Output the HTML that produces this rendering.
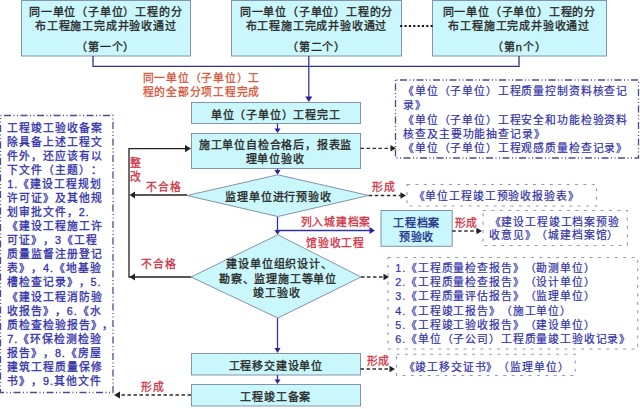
<!DOCTYPE html>
<html lang="zh-CN"><head><meta charset="utf-8">
<style>
html,body{margin:0;padding:0;background:#fff;width:640px;height:409px;overflow:hidden}
svg{display:block;font-family:"Liberation Sans",sans-serif;text-spacing-trim:space-all}
.bx{fill:#C9F7FB;stroke:#8494AC;stroke-width:1}
.tk{fill:#2A2A2A;font-size:11px;letter-spacing:0.8px;stroke:#2A2A2A;stroke-width:0.35}
.tr{fill:#D03444;font-size:10.8px;letter-spacing:0.75px;stroke:#D03444;stroke-width:0.3}
.tb{fill:#3232A8;letter-spacing:0.85px;stroke:#3232A8;stroke-width:0.22}
.bl{stroke:#3434A4;stroke-width:1.3;fill:none}
.bk{stroke:#222;stroke-width:1.3;fill:none}
.dsh{stroke:#2C2C2C;stroke-width:1.3;fill:none;stroke-dasharray:3.5 2.5}
.db{fill:none;stroke:#9898B8;stroke-width:1.1;stroke-dasharray:3 5.4}
.dd{fill:none;stroke:#4C4C8C;stroke-width:1.3;stroke-dasharray:7 2.5 1 2.5 1 2.5}
</style></head><body>
<svg width="640" height="409" viewBox="0 0 640 409">
<!-- top boxes -->
<rect class="bx" x="21.5" y="0.5" width="169" height="55.5"/>
<rect class="bx" x="231.5" y="0.5" width="170" height="55.5"/>
<rect class="bx" x="432.5" y="0.5" width="174" height="55.5"/>
<g class="tk" text-anchor="middle">
<text x="105.75" y="15.5">同一单位（子单位）工程的分</text>
<text x="105.75" y="30">布工程施工完成并验收通过</text>
<text x="105.75" y="50.7">（第一个）</text>
<text x="316.5" y="15.5">同一单位（子单位）工程的分</text>
<text x="316.5" y="30">布工程施工完成并验收通过</text>
<text x="316.5" y="50.7">（第二个）</text>
<text x="519.25" y="15.5">同一单位（子单位）工程的分</text>
<text x="519.25" y="30">布工程施工完成并验收通过</text>
<text x="519.25" y="50.7">（第n个）</text>
</g>
<line x1="400.2" y1="26" x2="433" y2="26" stroke="#0C1020" stroke-width="2.1" stroke-dasharray="2.1 2.24"/>
<!-- connectors -->
<path class="bl" d="M93 56V66.3H519V56" style="stroke:#303090"/>
<path class="bl" d="M308.8 56V97"/>
<path d="M305.3 96.5L308.8 102L312.3 96.5Z" fill="#2C22A0"/>
<g class="tr" style="fill:#D5573C;stroke:#D5573C"><text x="142.5" y="82.3">同一单位（子单位）工</text><text x="142.5" y="95.6">程的全部分项工程完成</text></g>
<!-- main flow -->
<rect class="bx" x="191.5" y="102.5" width="169" height="21"/>
<text class="tk" x="275.75" y="118.8" text-anchor="middle">单位（子单位）工程完工</text>
<path class="bl" d="M277.5 123.5V129"/><path d="M274.5 128.5L277.5 133L280.5 128.5Z" fill="#2C22A0"/>
<rect class="bx" x="191.5" y="133.5" width="169" height="35"/>
<g class="tk" text-anchor="middle"><text x="275.5" y="149.2">施工单位自检合格后，报表监</text><text x="275.2" y="163.2">理单位验收</text></g>
<path class="bl" d="M277.5 168.5V170"/><path d="M274.5 170L277.5 174.8L280.5 170Z" fill="#2C22A0"/>
<polygon class="bx" points="187,195.5 277.8,174.8 368.75,195.5 277.8,216.5"/>
<text class="tk" x="278.6" y="201" text-anchor="middle">监理单位进行预验收</text>
<path class="bl" d="M277.5 217V230"/><path d="M274.5 230L277.5 234.8L280.5 230Z" fill="#2C22A0"/>
<path class="bl" d="M277.5 230.5H370"/><path d="M369.5 227L375 230.5L369.5 234Z" fill="#2C22A0"/>
<g class="tr"><text x="300.5" y="226.3">列入城建档案</text><text x="306" y="246.7">馆验收工程</text></g>
<polygon class="bx" points="191,277 277.8,234.8 361,277 277.8,318"/>
<g class="tk" text-anchor="middle"><text x="279.5" y="267.9">建设单位组织设计、</text><text x="278" y="283.2">勘察、监理施工等单位</text><text x="277" y="297.2">竣工验收</text></g>
<path class="bl" d="M277.5 318V348"/><path d="M274.5 348L277.5 353L280.5 348Z" fill="#2C22A0"/>
<rect class="bx" x="191.5" y="353.5" width="169" height="21.5"/>
<text class="tk" x="275.75" y="370.2" text-anchor="middle">工程移交建设单位</text>
<path class="bl" d="M277.5 375V380"/><path d="M274.5 379.5L277.5 384L280.5 379.5Z" fill="#2C22A0"/>
<rect class="bx" x="191.5" y="384.5" width="169" height="21.5"/>
<text class="tk" x="275.75" y="401" text-anchor="middle">工程竣工备案</text>
<!-- feedback loop -->
<path class="bk" d="M186 148.6H129V277H191"/>
<path d="M185 145L191 148.6L185 152.2Z" fill="#222"/>
<path class="bk" d="M187 195H135"/>
<path d="M135 191.5L129.5 195L135 198.5Z" fill="#222"/>
<path d="M135 273.5L129.5 277L135 280.5Z" fill="#222"/>
<g class="tr"><text x="130.4" y="166.7">整</text><text x="130.4" y="181">改</text><text x="146.2" y="191.4">不合格</text><text x="141" y="267.9">不合格</text></g>
<!-- left info box -->
<rect class="dd" x="0.5" y="115.5" width="112.5" height="277" style="stroke-dashoffset:13"/>
<g class="tb" style="font-size:10.8px;letter-spacing:0.9px;stroke-width:0.3">
<text x="7.3" y="131.5">工程竣工验收备案</text>
<text x="7.3" y="145.6">除具备上述工程文</text>
<text x="7.3" y="159.7">件外，还应该有以</text>
<text x="7.3" y="173.7">下文件（主题）：</text>
<text x="7.3" y="187.8">1.《建设工程规划</text>
<text x="7.3" y="201.9">许可证》及其他规</text>
<text x="7.3" y="216">划审批文件，2.</text>
<text x="7.3" y="230.1">《建设工程施工许</text>
<text x="7.3" y="244.1">可证》，3《工程</text>
<text x="7.3" y="258.2">质量监督注册登记</text>
<text x="7.3" y="272.3">表》，4.《地基验</text>
<text x="7.3" y="286.4">槽检查记录》，5.</text>
<text x="7.3" y="300.5">《建设工程消防验</text>
<text x="7.3" y="314.5">收报告》，6.《水</text>
<text x="7.3" y="328.6">质检查检验报告》，</text>
<text x="7.3" y="342.7">7.《环保检测检验</text>
<text x="7.3" y="356.8">报告》，8.《房屋</text>
<text x="7.3" y="370.9">建筑工程质量保修</text>
<text x="7.3" y="384.9">书》，9.其他文件</text>
</g>
<path class="dsh" d="M191 395H120"/><path d="M120 391.5L114 395L120 398.5Z" fill="#222"/>
<text class="tr" x="141" y="391">形成</text>
<!-- right boxes -->
<rect class="dd" x="395.5" y="80" width="243" height="78" style="stroke-dashoffset:12"/>
<g class="tb" style="font-size:10.8px">
<text x="403" y="95.3">《单位（子单位）工程质量控制资料核查记</text>
<text x="403.3" y="109.2">录》</text>
<text x="403" y="124.3">《单位（子单位）工程安全和功能检验资料</text>
<text x="403.3" y="138.3">核查及主要功能抽查记录》</text>
<text x="403" y="152.3">《单位（子单位）工程观感质量检查记录》</text>
</g>
<path class="dsh" d="M360.5 148.3H391"/><path d="M390.5 145L396 148.3L390.5 151.6Z" fill="#222"/>
<text class="tr" x="371.75" y="191">形成</text>
<path class="dsh" d="M368.75 195.5H401"/><path d="M400.5 192.2L406 195.5L400.5 198.8Z" fill="#222"/>
<rect class="db" x="407" y="184.5" width="189.5" height="21.5"/>
<text class="tb" style="font-size:10.8px" x="413.6" y="200.3">《单位工程竣工预验收报验表》</text>
<rect class="bx" x="381" y="210.5" width="71.2" height="35.8"/>
<g class="tk" text-anchor="middle" style="fill:#24358A;stroke:#24358A"><text x="416.6" y="227.4">工程档案</text><text x="416.6" y="240.6">预验收</text></g>
<text class="tr" x="454.6" y="226.9">形成</text>
<path class="dsh" d="M452.2 231H477"/><path d="M476.5 227.7L482 231L476.5 234.3Z" fill="#222"/>
<rect class="db" x="483" y="210.5" width="144.3" height="35"/>
<g class="tb" style="font-size:10.8px"><text x="489.5" y="226">《建设工程竣工档案预验</text><text x="489" y="238.9">收意见》（城建档案馆）</text></g>
<path class="dsh" d="M361 277H384"/><path d="M383.5 273.7L389 277L383.5 280.3Z" fill="#222"/>
<rect class="db" x="388" y="257.5" width="249.7" height="91.5"/>
<g class="tb" style="font-size:10.8px">
<text x="395.3" y="271.8">1.《工程质量检查报告》（勘测单位）</text>
<text x="395.3" y="285.9">2.《工程质量检查报告》（设计单位）</text>
<text x="395.3" y="300.3">3.《工程质量评估报告》（监理单位）</text>
<text x="395.3" y="315">4.《工程竣工报告》（施工单位）</text>
<text x="395.3" y="329.1">5.《工程竣工验收报告》（建设单位）</text>
<text x="395.3" y="342.7">6.《单位（子公司）工程质量竣工验收记录》</text>
</g>
<text class="tr" x="366.7" y="365">形成</text>
<path class="dsh" d="M360.5 369H390"/><path d="M389.5 365.7L395 369L389.5 372.3Z" fill="#222"/>
<rect class="db" x="396.5" y="354.3" width="178.7" height="21.2"/>
<text class="tb" style="font-size:10.8px" x="403.5" y="370.6">《竣工移交证书》（监理单位）</text>
</svg>
</body></html>
